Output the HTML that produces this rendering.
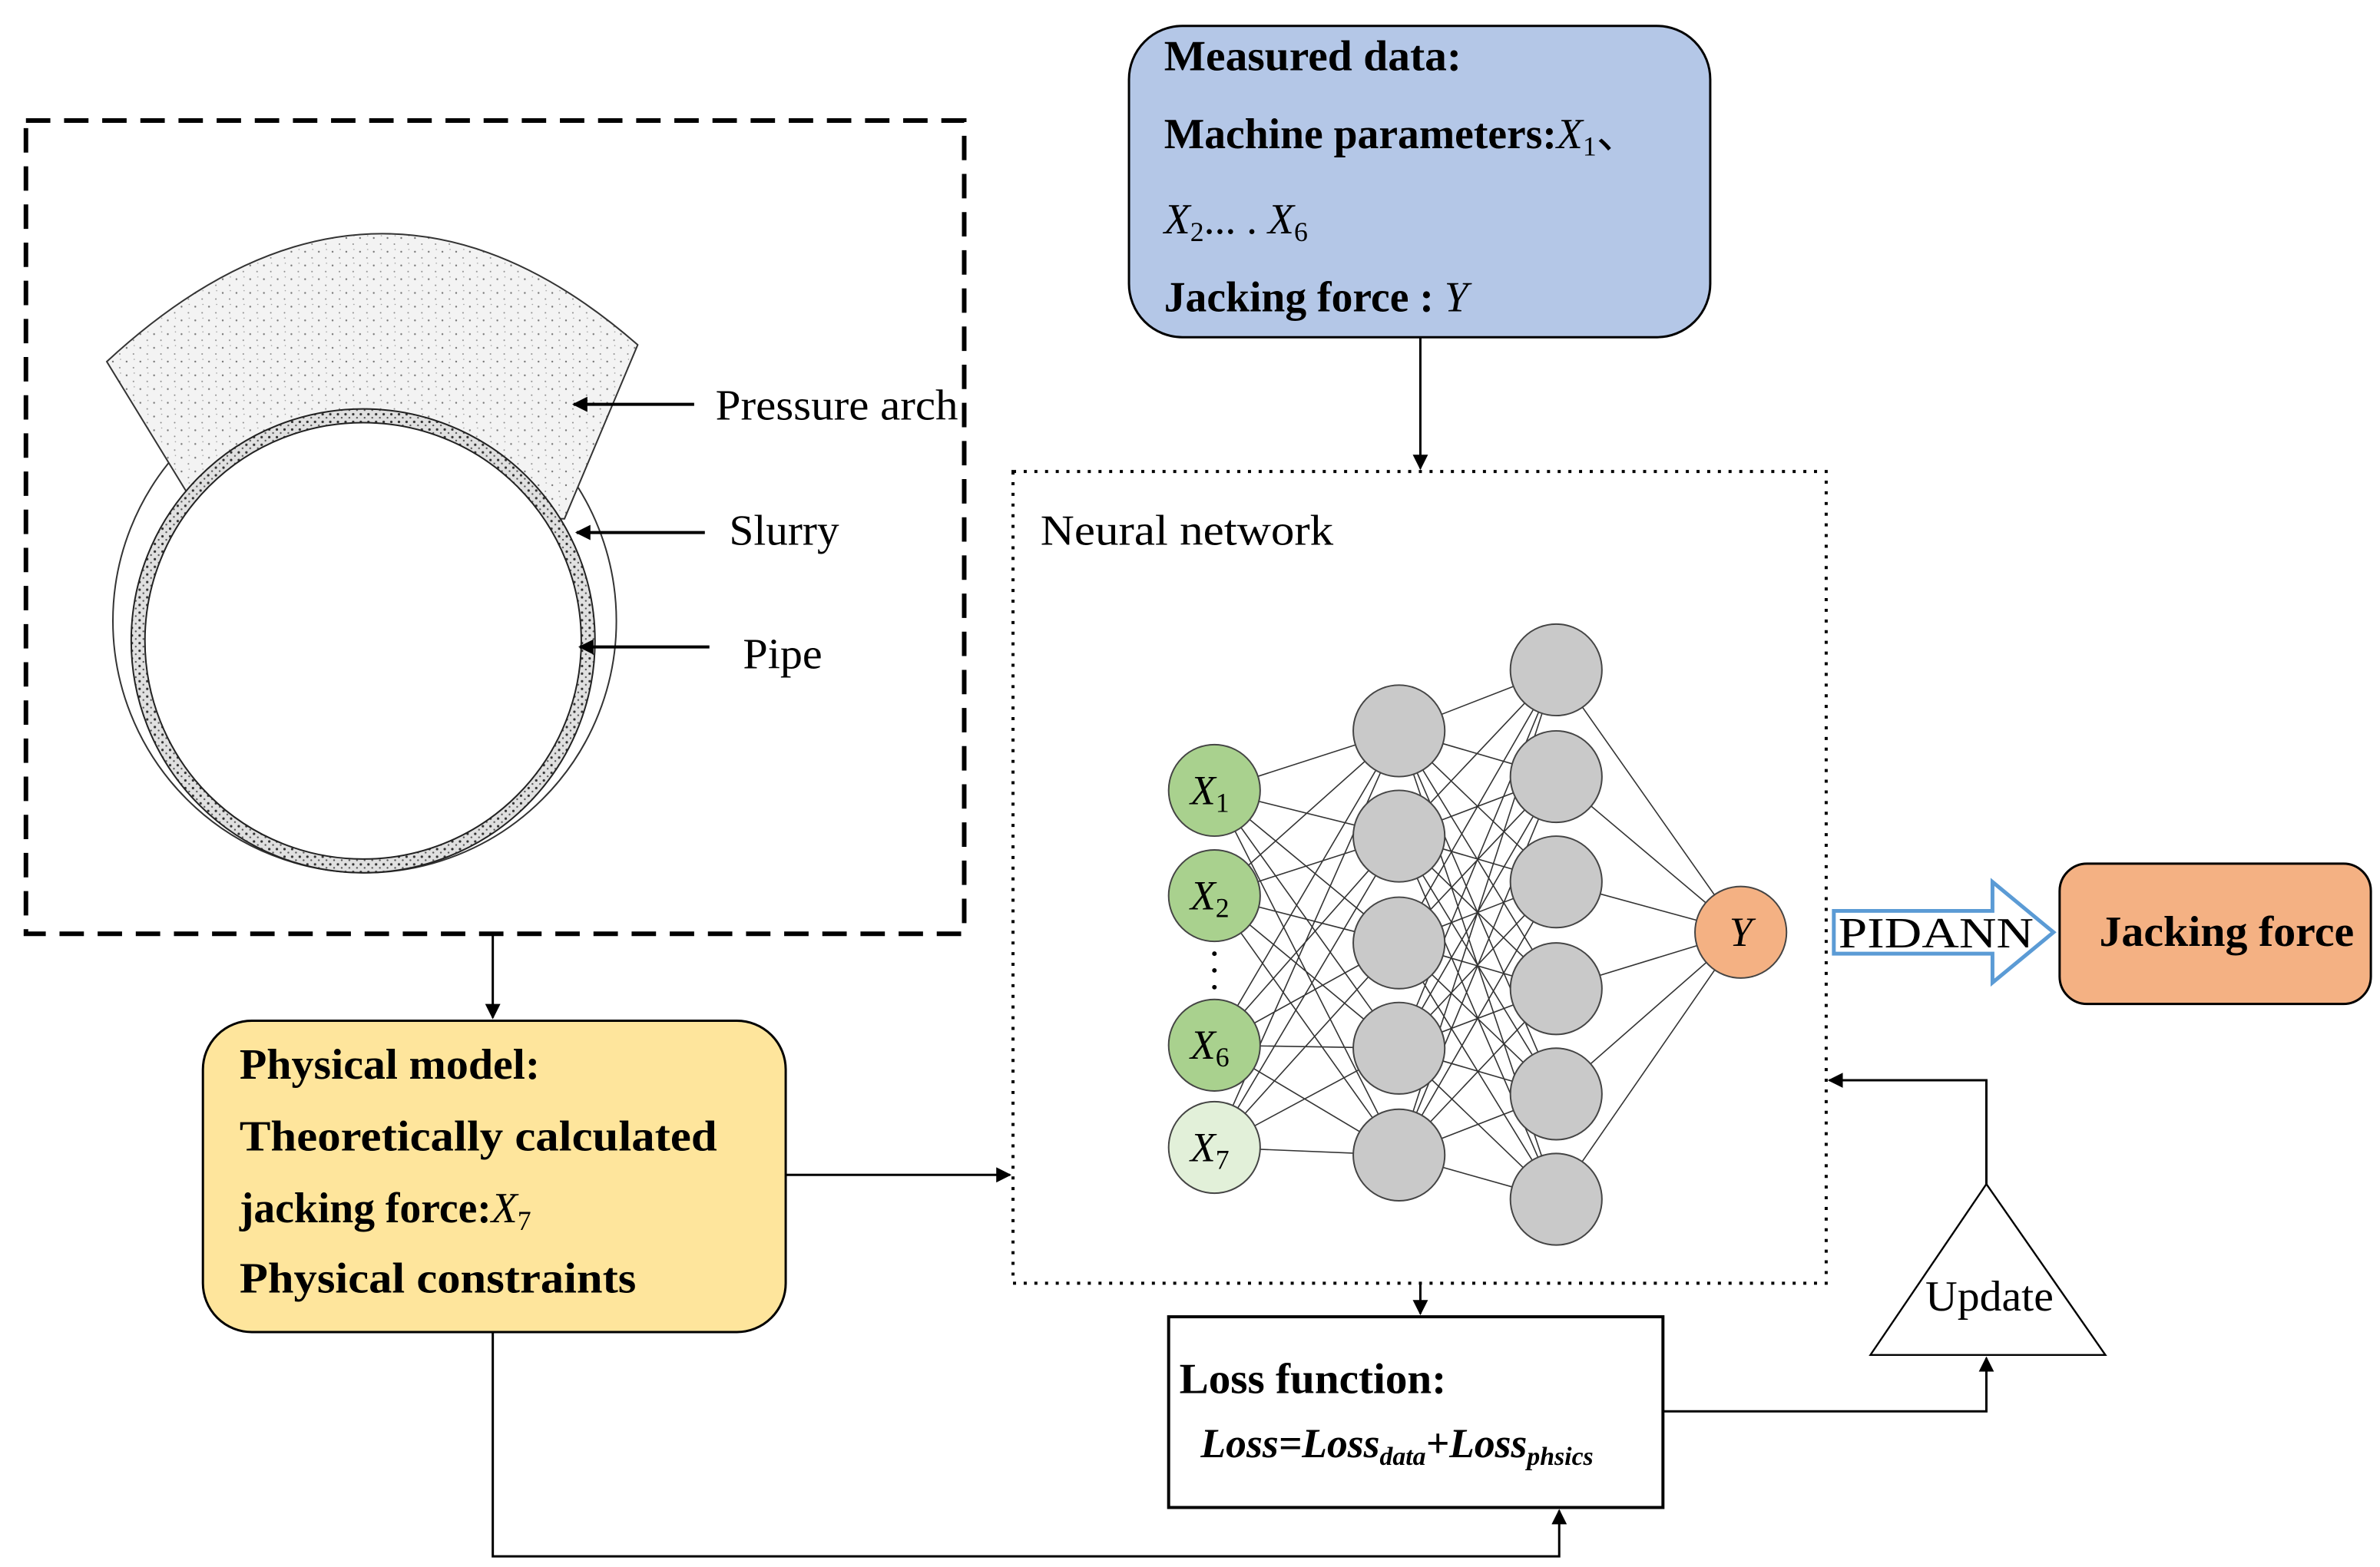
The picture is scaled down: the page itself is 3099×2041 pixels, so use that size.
<!DOCTYPE html>
<html><head><meta charset="utf-8"><style>html,body{margin:0;padding:0;background:#fff}svg{display:block}</style></head>
<body>
<svg xmlns="http://www.w3.org/2000/svg" width="3099" height="2041" viewBox="0 0 1560 1027" preserveAspectRatio="none" font-family="'Liberation Serif', serif">
<defs>
<marker id="ah" markerWidth="10" markerHeight="10" refX="9" refY="5" orient="auto" markerUnits="userSpaceOnUse"><path d="M0,0 L10,5 L0,10 Z" fill="#000"/></marker>
<pattern id="st" width="9" height="9" patternUnits="userSpaceOnUse"><rect width="9" height="9" fill="#f3f3f3"/><circle cx="2" cy="3" r="0.6" fill="#777"/><circle cx="6.5" cy="7" r="0.5" fill="#888"/><circle cx="7" cy="1.5" r="0.4" fill="#999"/></pattern>
<pattern id="st2" width="5" height="5" patternUnits="userSpaceOnUse"><rect width="5" height="5" fill="#e0e0e0"/><circle cx="1.5" cy="1.5" r="0.8" fill="#333"/><circle cx="4" cy="3.8" r="0.6" fill="#555"/></pattern>
</defs>
<rect x="17" y="79" width="615" height="533" fill="none" stroke="#000" stroke-width="3" stroke-dasharray="16,9"/>
<circle cx="239" cy="407" r="165" fill="#fff" stroke="#333" stroke-width="1"/>
<path d="M70,237 Q245,75 418,226 L370,340 L130,335 Z" fill="url(#st)" stroke="#333" stroke-width="1"/>
<circle cx="238" cy="420" r="152" fill="url(#st2)" stroke="#222" stroke-width="1"/>
<circle cx="238" cy="420" r="143" fill="#fff" stroke="#222" stroke-width="1"/>
<g stroke="#000" stroke-width="2"><line x1="455" y1="265" x2="376" y2="265" marker-end="url(#ah)"/><line x1="462" y1="349" x2="378" y2="349" marker-end="url(#ah)"/><line x1="465" y1="424" x2="380" y2="424" marker-end="url(#ah)"/></g>
<g font-size="28"><text x="469" y="275" textLength="159" lengthAdjust="spacingAndGlyphs">Pressure arch</text><text x="478" y="357" textLength="72" lengthAdjust="spacingAndGlyphs">Slurry</text><text x="487" y="438" textLength="52" lengthAdjust="spacingAndGlyphs">Pipe</text></g>
<line x1="323" y1="612" x2="323" y2="667" stroke="#000" stroke-width="1.5" marker-end="url(#ah)"/>
<rect x="133" y="669" width="382" height="204" rx="32" fill="#fee59c" stroke="#000" stroke-width="1.5"/>
<g font-size="28" font-weight="bold"><text x="157" y="707" textLength="197" lengthAdjust="spacingAndGlyphs">Physical model:</text><text x="157" y="754" textLength="313" lengthAdjust="spacingAndGlyphs">Theoretically calculated</text><text x="157" y="801">jacking force:<tspan font-style="italic" font-weight="normal">X</tspan><tspan font-weight="normal" font-size="18" dy="5">7</tspan></text><text x="157" y="847" textLength="260" lengthAdjust="spacingAndGlyphs">Physical constraints</text></g>
<rect x="740" y="17" width="381" height="204" rx="35" fill="#b4c7e7" stroke="#000" stroke-width="1.5"/>
<g font-size="28"><text x="763" y="46" font-weight="bold" textLength="195" lengthAdjust="spacingAndGlyphs">Measured data:</text>
<text x="763" y="97" font-weight="bold">Machine parameters:<tspan font-style="italic" font-weight="normal">X</tspan><tspan font-weight="normal" font-size="18" dy="5">1</tspan><tspan font-weight="normal" dy="-5">、</tspan></text>
<text x="763" y="153"><tspan font-style="italic">X</tspan><tspan font-size="18" dy="5">2</tspan><tspan dy="-5">... . </tspan><tspan font-style="italic">X</tspan><tspan font-size="18" dy="5">6</tspan></text>
<text x="763" y="204" font-weight="bold">Jacking force : <tspan font-style="italic" font-weight="normal">Y</tspan></text></g>
<line x1="931" y1="221" x2="931" y2="307" stroke="#000" stroke-width="1.5" marker-end="url(#ah)"/>
<rect x="664" y="309" width="533" height="532" fill="none" stroke="#000" stroke-width="2" stroke-dasharray="2,5"/>
<text x="682" y="357" font-size="28" textLength="192" lengthAdjust="spacingAndGlyphs">Neural network</text>
<g stroke="#333" stroke-width="0.8">
<path d="M796,518L917,479M796,518L917,548M796,518L917,618M796,518L917,687M796,518L917,757M796,587L917,479M796,587L917,548M796,587L917,618M796,587L917,687M796,587L917,757M796,685L917,479M796,685L917,548M796,685L917,618M796,685L917,687M796,685L917,757M796,752L917,479M796,752L917,548M796,752L917,618M796,752L917,687M796,752L917,757"/>
<path d="M917,479L1020,439M917,479L1020,509M917,479L1020,578M917,479L1020,648M917,479L1020,717M917,479L1020,786M917,548L1020,439M917,548L1020,509M917,548L1020,578M917,548L1020,648M917,548L1020,717M917,548L1020,786M917,618L1020,439M917,618L1020,509M917,618L1020,578M917,618L1020,648M917,618L1020,717M917,618L1020,786M917,687L1020,439M917,687L1020,509M917,687L1020,578M917,687L1020,648M917,687L1020,717M917,687L1020,786M917,757L1020,439M917,757L1020,509M917,757L1020,578M917,757L1020,648M917,757L1020,717M917,757L1020,786"/>
<path d="M1020,439L1141,611M1020,509L1141,611M1020,578L1141,611M1020,648L1141,611M1020,717L1141,611M1020,786L1141,611"/>
</g>
<g stroke="#444" stroke-width="1">
<circle cx="796" cy="518" r="30" fill="#a9d18e"/><circle cx="796" cy="587" r="30" fill="#a9d18e"/><circle cx="796" cy="685" r="30" fill="#a9d18e"/><circle cx="796" cy="752" r="30" fill="#e2f0d9"/>
<g fill="#c9c9c9"><circle cx="917" cy="479" r="30"/><circle cx="917" cy="548" r="30"/><circle cx="917" cy="618" r="30"/><circle cx="917" cy="687" r="30"/><circle cx="917" cy="757" r="30"/>
<circle cx="1020" cy="439" r="30"/><circle cx="1020" cy="509" r="30"/><circle cx="1020" cy="578" r="30"/><circle cx="1020" cy="648" r="30"/><circle cx="1020" cy="717" r="30"/><circle cx="1020" cy="786" r="30"/></g>
<circle cx="1141" cy="611" r="30" fill="#f4b183"/></g>
<g fill="#000"><circle cx="796" cy="625" r="1.5"/><circle cx="796" cy="636" r="1.5"/><circle cx="796" cy="647" r="1.5"/></g>
<g font-size="27" font-style="italic" text-anchor="middle">
<text x="793" y="527">X<tspan font-size="18" font-style="normal" dy="5">1</tspan></text>
<text x="793" y="596">X<tspan font-size="18" font-style="normal" dy="5">2</tspan></text>
<text x="793" y="694">X<tspan font-size="18" font-style="normal" dy="5">6</tspan></text>
<text x="793" y="761">X<tspan font-size="18" font-style="normal" dy="5">7</tspan></text>
<text x="1141" y="620">Y</text></g>
<path d="M1202,597 L1306,597 L1306,578 L1346,611 L1306,644 L1306,625 L1202,625 Z" fill="#fff" stroke="#5b9bd5" stroke-width="2.5"/>
<text x="1205" y="621" font-size="28" textLength="128" lengthAdjust="spacingAndGlyphs">PIDANN</text>
<rect x="1350" y="566" width="204" height="92" rx="18" fill="#f4b183" stroke="#000" stroke-width="1.5"/>
<text x="1376" y="620" font-size="28" font-weight="bold" textLength="167" lengthAdjust="spacingAndGlyphs">Jacking force</text>
<line x1="515" y1="770" x2="662" y2="770" stroke="#000" stroke-width="1.5" marker-end="url(#ah)"/>
<line x1="931" y1="841" x2="931" y2="861" stroke="#000" stroke-width="1.5" marker-end="url(#ah)"/>
<rect x="766" y="863" width="324" height="125" fill="#fff" stroke="#000" stroke-width="2"/>
<text x="773" y="913" font-size="28" font-weight="bold" textLength="175" lengthAdjust="spacingAndGlyphs">Loss function:</text>
<text x="787" y="955" font-size="27" font-weight="bold" font-style="italic">Loss=Loss<tspan font-size="17" dy="5">data</tspan><tspan dy="-5">+Loss</tspan><tspan font-size="17" dy="5">phsics</tspan></text>
<polyline points="1090,925 1302,925 1302,890" fill="none" stroke="#000" stroke-width="1.5" marker-end="url(#ah)"/>
<path d="M1302,776 L1380,888 L1226,888 Z" fill="#fff" stroke="#000" stroke-width="1.2"/>
<text x="1262" y="859" font-size="28" textLength="84" lengthAdjust="spacingAndGlyphs">Update</text>
<polyline points="1302,776 1302,708 1199,708" fill="none" stroke="#000" stroke-width="1.5" marker-end="url(#ah)"/>
<polyline points="323,873 323,1020 1022,1020 1022,990" fill="none" stroke="#000" stroke-width="1.5" marker-end="url(#ah)"/>
</svg>
</body></html>
